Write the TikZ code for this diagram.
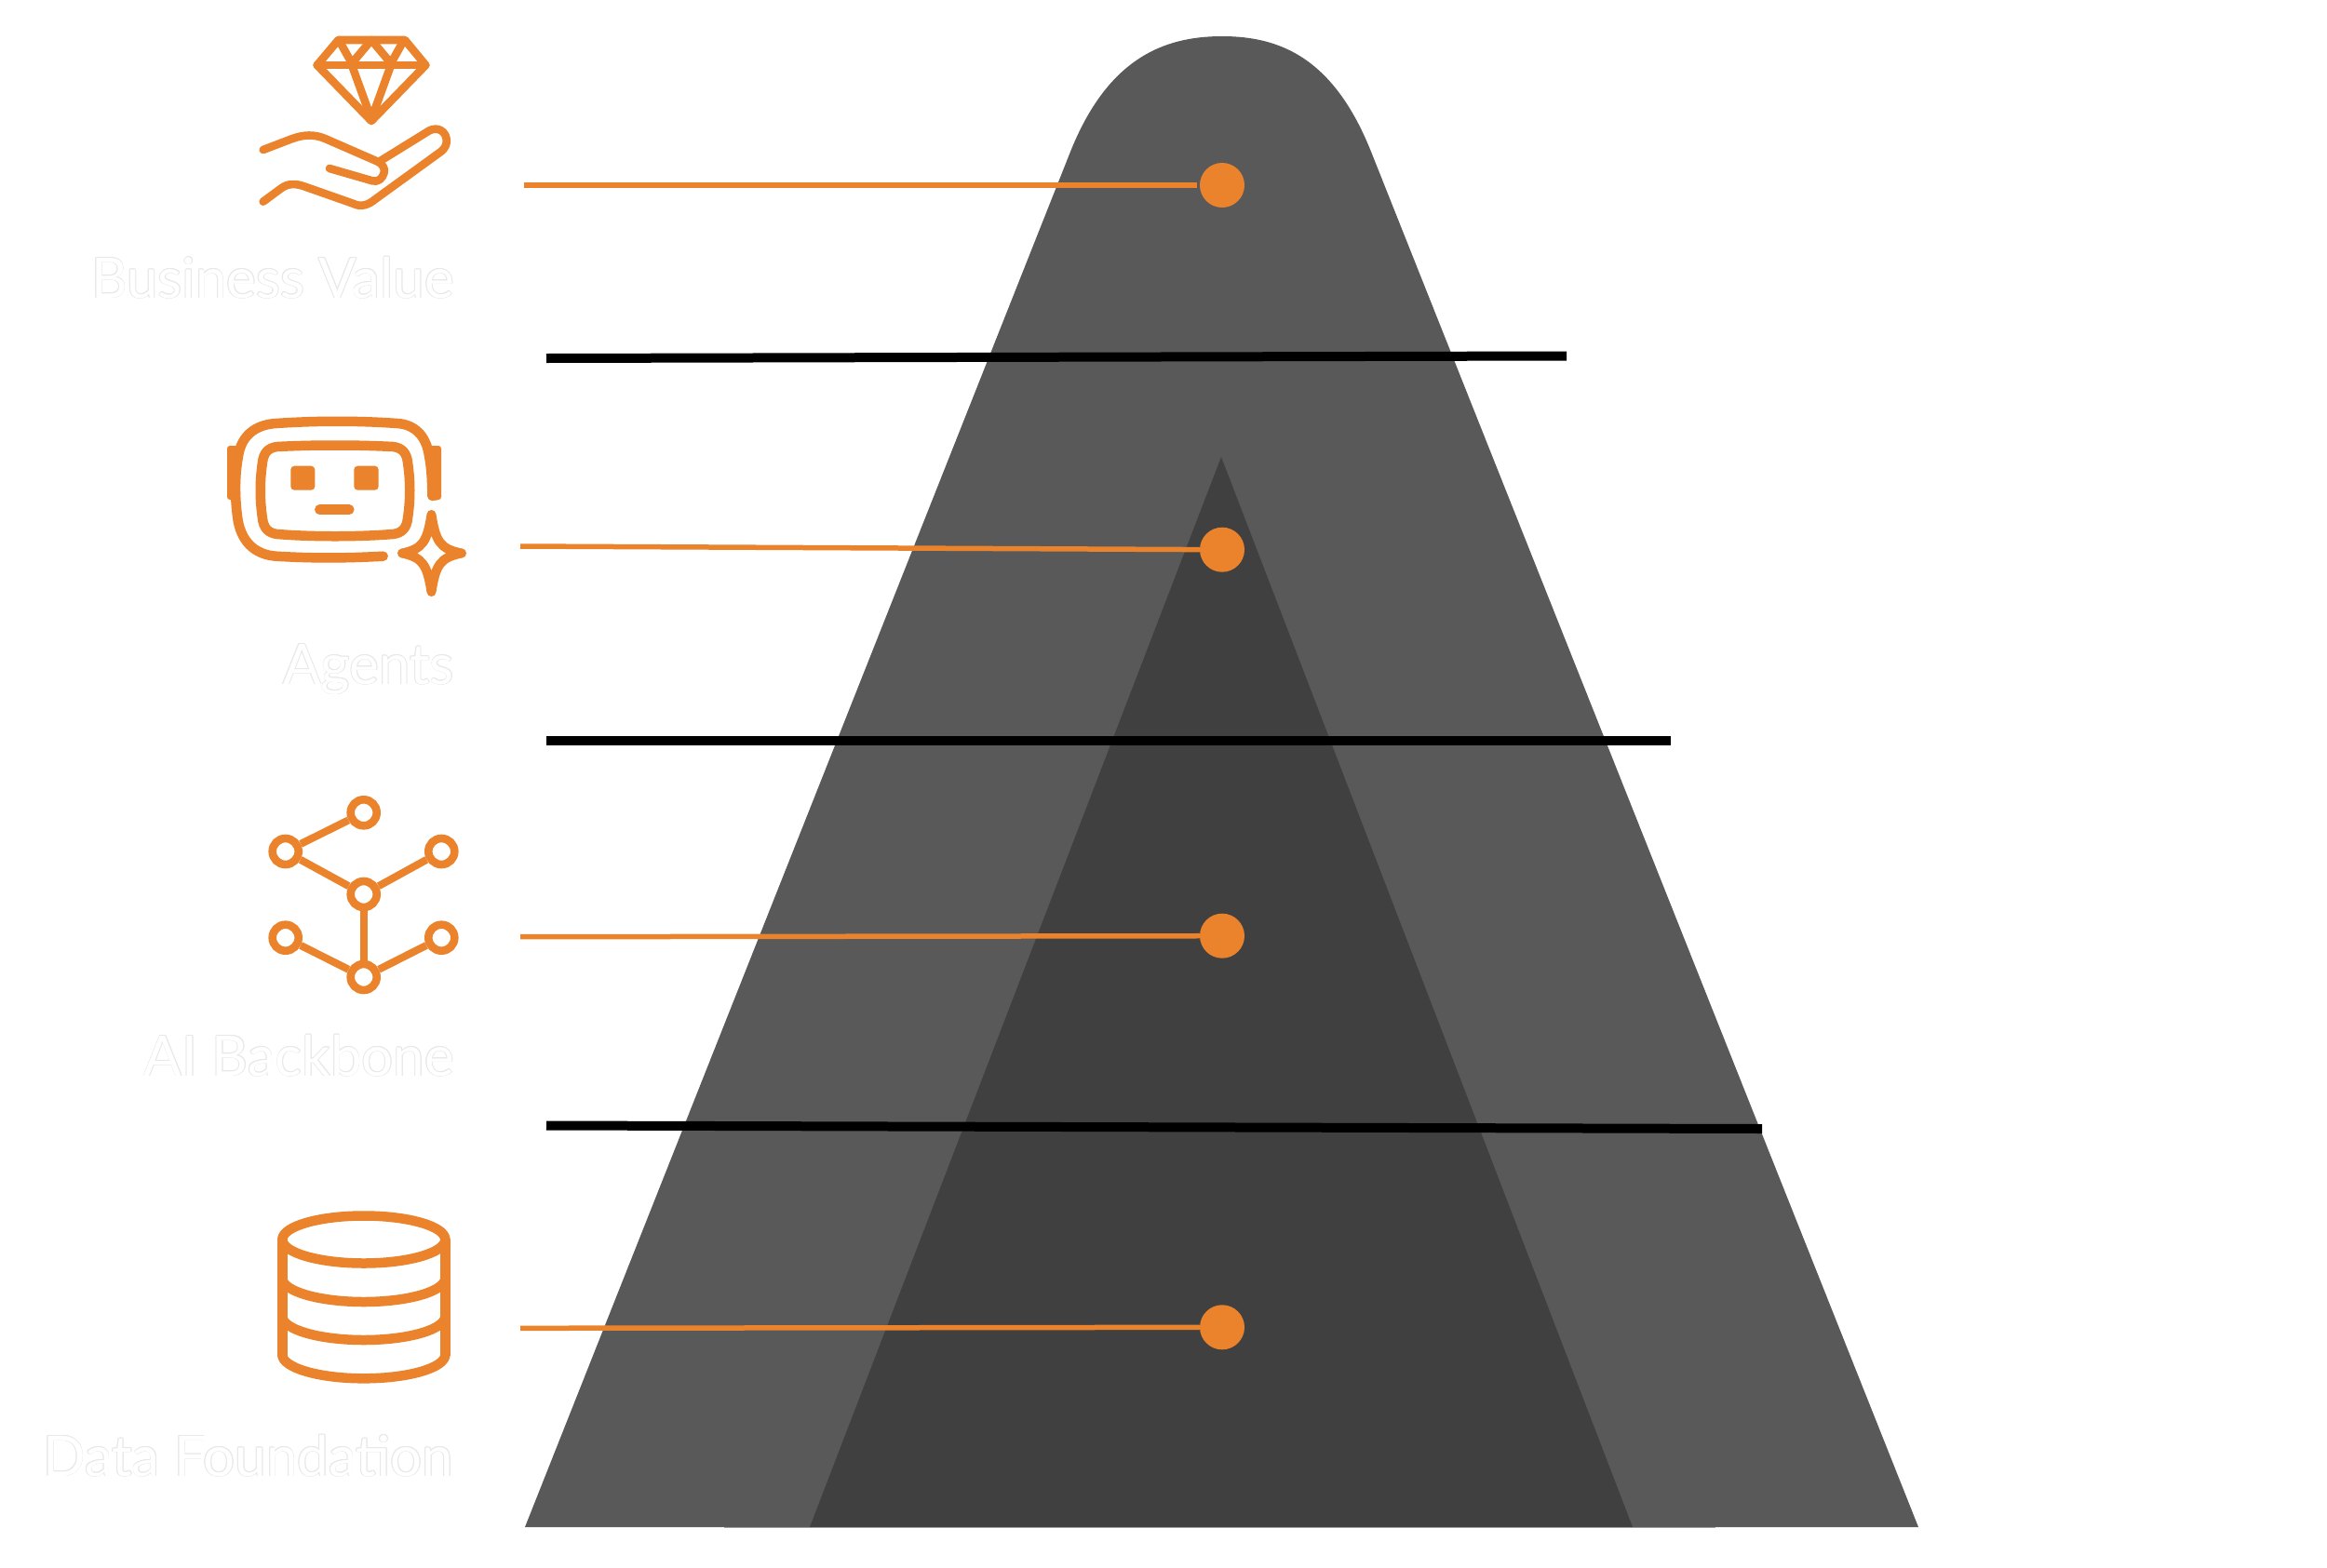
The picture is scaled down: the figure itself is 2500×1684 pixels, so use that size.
\documentclass[tikz,border=0pt]{standalone}
\usepackage{fontspec}
\setmainfont{Lato}
\definecolor{outerc}{HTML}{595959}
\definecolor{innerc}{HTML}{404040}
\definecolor{orangec}{HTML}{EA832B}
\definecolor{ghostc}{HTML}{E8E8E8}
\newcommand{\ghostpiece}[3]{\rlap{\kern#1pt\raise#2pt\hbox{#3}}}
\newcommand{\ghosttext}[1]{\fontsize{60}{60}\selectfont\leavevmode
  {\color{ghostc}\ghostpiece{-.8}{0}{#1}\ghostpiece{.8}{0}{#1}\ghostpiece{0}{.8}{#1}\ghostpiece{0}{-.8}{#1}%
  \ghostpiece{-.6}{-.6}{#1}\ghostpiece{.6}{-.6}{#1}\ghostpiece{-.6}{.6}{#1}\ghostpiece{.6}{.6}{#1}}%
  {\color{white}#1}}
\tikzset{
  leader/.style={draw=orangec,line width=5.5pt},
  divider/.style={draw=black,line width=10pt},
  dotnode/.style={circle,fill=orangec,minimum size=48pt,inner sep=0pt},
  icon/.style={draw=orangec,line width=8.6pt,line cap=round,line join=round},
  iconb/.style={draw=orangec,line width=10.5pt,line cap=round,line join=round},
  net/.style={circle,draw=orangec,line width=8.6pt,minimum size=28pt,inner sep=0pt},
  netline/.style={draw=orangec,line width=8pt},
  label/.style={anchor=base east,inner sep=0pt},
}
\begin{document}
\begin{tikzpicture}[x=1pt,y=-1pt]
\useasboundingbox (0,0) rectangle (2500,1684);
\fill[white] (0,0) rectangle (2500,1684);
% pyramid
\fill[outerc] (564,1641) -- (1150,163) .. controls (1190,63) and (1250,39) .. (1313,39)
   .. controls (1376,39) and (1433,63) .. (1473,163) -- (2061,1641) -- cycle;
\fill[innerc] (870,1641) -- (1312,491) -- (1754,1641) -- cycle;
\draw[draw=black!40,line width=1pt] (778,1641.5) -- (1843,1641.5);
% dividers
\coordinate (d1a) at (587,385); \coordinate (d1b) at (1683,382.5);
\coordinate (d2a) at (587,795.7);   \coordinate (d2b) at (1795,795.7);
\coordinate (d3a) at (587,1209.5);  \coordinate (d3b) at (1893,1213);
\draw[divider] (d1a) -- (d1b);
\draw[divider] (d2a) -- (d2b);
\draw[divider] (d3a) -- (d3b);
% dots and leaders
\node[dotnode] (dot1) at (1313,199) {};
\node[dotnode] (dot2) at (1313,590.7) {};
\node[dotnode] (dot3) at (1313,1005.7) {};
\node[dotnode] (dot4) at (1313,1426.3) {};
\coordinate (s1) at (563,199);
\coordinate (s2) at (559,587);
\coordinate (s3) at (559,1006.7);
\coordinate (s4) at (559,1427.3);
\draw[leader,shorten >=3pt] (s1) -- (dot1);
\draw[leader] (s2) -- (dot2);
\draw[leader] (s3) -- (dot3);
\draw[leader] (s4) -- (dot4);
% labels
\node[label] (l1) at (488,320) {\ghosttext{Business Value}};
\node[label] (l2) at (488,735) {\ghosttext{Agents}};
\node[label] (l3) at (488,1156) {\ghosttext{AI Backbone}};
\node[label] (l4) at (487,1586) {\ghosttext{Data Foundation}};
% diamond icon
\draw[icon] (363.5,43) -- (435,43) -- (457.3,70) -- (399,130) -- (340.7,70) -- cycle;
\draw[icon] (340.7,70) -- (457.3,70);
\draw[icon] (364,43) -- (378,68) -- (399,43) -- (420,68) -- (434,43);
\draw[icon] (378,70) -- (399,128) -- (420,70);
% hand icon
\draw[icon] (282.7,161) -- (313.3,149.3) .. controls (326,144.5) and (338,144) .. (350,149.3)
  -- (405,173.3) .. controls (412,176.5) and (414,182) .. (412.5,186)
  .. controls (411,192) and (406,196) .. (400,194.3) -- (354,181);
\draw[icon] (408,173.3) -- (461,140.5) .. controls (470,135.5) and (480,141) .. (479.8,152)
  .. controls (479.7,156) and (477.5,160) .. (474,162.7)
  -- (403.3,214) .. controls (396,220) and (388,223) .. (380,219) -- (328,200.7)
  .. controls (318,197) and (310,197) .. (303,201.7) -- (282.7,216.7);
% robot icon
\draw[iconb] (411.7,597.7) .. controls (370,600) and (335,600) .. (296.7,597.7)
  .. controls (272,596) and (258,580) .. (255,555)
  .. controls (252,530) and (252,510) .. (257,485)
  .. controls (262,465) and (278,456) .. (296.7,455)
  .. controls (340,452) and (385,452) .. (426.7,455)
  .. controls (445,456) and (458,468) .. (461,490) .. controls (464,505) and (464,520) .. (464.5,533);
\fill[orangec,rounded corners=3pt] (244,479) rectangle (258,537);
\fill[orangec,rounded corners=3pt] (460,479) rectangle (474,537);
\fill[orangec,rounded corners=5pt] (459,528) rectangle (474,537.5);
\draw[iconb] (298,480) .. controls (335,478) and (385,478) .. (422,480)
  .. controls (432,481) and (437,487) .. (438,497)
  .. controls (441,517) and (441,537) .. (438,557)
  .. controls (437,567) and (432,573) .. (422,574)
  .. controls (385,577) and (335,577) .. (298,574)
  .. controls (288,573) and (283,567) .. (282,557)
  .. controls (279,537) and (279,517) .. (282,497)
  .. controls (283,487) and (288,481) .. (298,480) -- cycle;
\fill[orangec,rounded corners=4pt] (312.3,500.7) rectangle (338.3,526.7);
\fill[orangec,rounded corners=4pt] (380.3,500.7) rectangle (406.7,526.7);
\draw[iconb] (343.3,547.7) -- (375.3,547.7);
% sparkle
\draw[iconb,line width=10pt] (463.5,553) .. controls (468,582) and (473,590) .. (496,594.5)
  .. controls (473,599) and (468,607) .. (463.5,636)
  .. controls (459,607) and (454,599) .. (432,594.5)
  .. controls (454,590) and (459,582) .. (463.5,553) -- cycle;
% network icon
\node[net] (n1) at (390.7,873.3) {};
\node[net] (n2) at (306.7,915) {};
\node[net] (n3) at (474.3,915) {};
\node[net] (n4) at (390.7,961) {};
\node[net] (n5) at (306.7,1007.7) {};
\node[net] (n6) at (474.3,1007.7) {};
\node[net] (n7) at (390.7,1050) {};
\draw[netline] (n2) -- (n1);
\draw[netline] (n2) -- (n4);
\draw[netline] (n3) -- (n4);
\draw[netline] (n4) -- (n7);
\draw[netline] (n5) -- (n7);
\draw[netline] (n6) -- (n7);
% database icon
\draw[iconb] (390.8,1332) ellipse [x radius=87.5,y radius=25.5];
\draw[iconb] (303.3,1332) -- (303.3,1456);
\draw[iconb] (478.3,1332) -- (478.3,1456);
\foreach \c in {1373.5,1414.5,1455.8}{
  \draw[iconb] (303.3,\c) .. controls (303.3,{\c+14}) and (342.5,{\c+25.5}) .. (390.8,{\c+25.5})
     .. controls (439.1,{\c+25.5}) and (478.3,{\c+14}) .. (478.3,\c);
}
\end{tikzpicture}
\end{document}
